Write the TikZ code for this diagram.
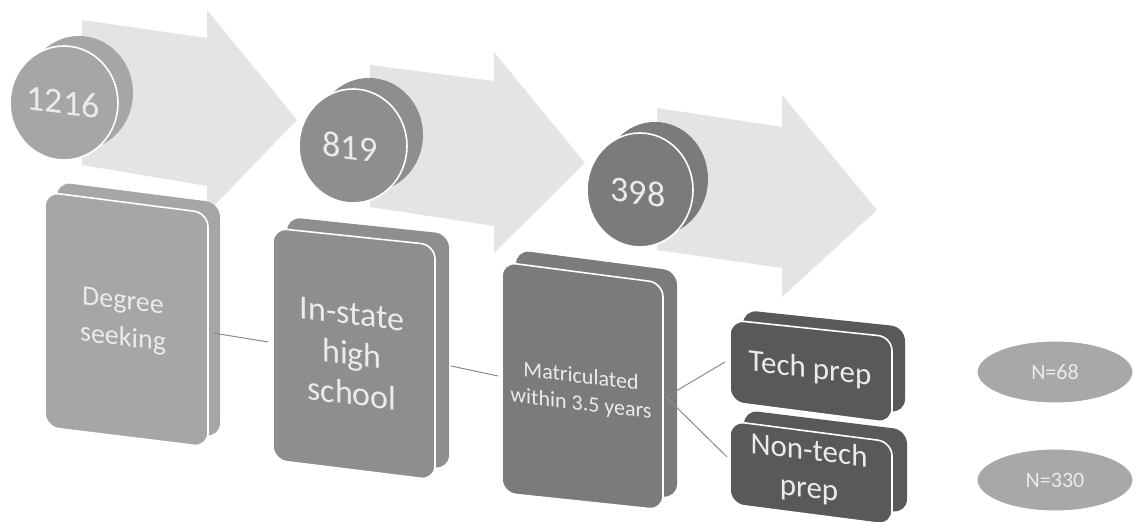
\documentclass[tikz,border=0pt]{standalone}
\usepackage{fontspec}
\setmainfont{Carlito}
\usetikzlibrary{shapes.geometric}
\definecolor{arrowc}{HTML}{E4E4E4}
\definecolor{gA}{HTML}{A6A6A6}
\definecolor{gB}{HTML}{8E8E8E}
\definecolor{gC}{HTML}{7B7B7B}
\definecolor{gD}{HTML}{595959}
\definecolor{gE}{HTML}{A8A8A8}
\definecolor{txt}{HTML}{EBEBEB}
\definecolor{linec}{HTML}{8A8A8A}
\tikzset{
  arrowshape/.style={fill=arrowc, draw=none},
  cardback/.style={draw=none, rounded corners=7pt},
  cardfront/.style={draw=white, line width=0.8pt, rounded corners=7pt},
  discback/.style={draw=none},
  discfront/.style={draw=white, line width=0.8pt},
  lbl/.style={text=txt, align=center, inner sep=0pt, yslant=-0.12},
  conn/.style={draw=linec, line width=0.5pt},
  oval/.style={ellipse, fill=gE, draw=white, line width=0.5pt, minimum width=78pt, minimum height=31pt, text=txt, inner sep=0pt, font=\fontsize{11}{13}\selectfont}
}
\begin{document}
\begin{tikzpicture}[x=0.5pt,y=-0.5pt]
\useasboundingbox (0,0) rectangle (1135,522);
% arrows
\fill[arrowshape] (82,20) -- (207,38) -- (207,10) -- (297,120) -- (207,213) -- (207,186) -- (82,165) -- cycle;
\fill[arrowshape] (370,65) -- (494,81) -- (494,52) -- (585,163) -- (494,253) -- (494,226) -- (370,207) -- cycle;
\fill[arrowshape] (657,108) -- (782,127) -- (782,95) -- (877,210) -- (782,297) -- (782,268) -- (657,250) -- cycle;
% card 1
\fill[cardback, gA] (57,182) -- (220,203) -- (220,437) -- (57,417) -- cycle;
\filldraw[cardfront, fill=gA] (45,192) -- (208,213) -- (208,447) -- (45,427) -- cycle;
% card 2
\fill[cardback, gB] (287,217) -- (449,234) -- (449,469) -- (287,449) -- cycle;
\filldraw[cardfront, fill=gB] (273,228) -- (435,245) -- (435,480) -- (273,460) -- cycle;
% card 3
\fill[cardback, gC] (516,250) -- (677,271) -- (677,498) -- (516,481) -- cycle;
\filldraw[cardfront, fill=gC] (502,262) -- (663,283) -- (663,510) -- (502,493) -- cycle;
% card 4
\fill[cardback, gD] (743,310) -- (905,327) -- (905,413) -- (743,392) -- cycle;
\filldraw[cardfront, fill=gD] (730,320) -- (892,337) -- (892,423) -- (730,402) -- cycle;
% card 5
\fill[cardback, gD] (744,410) -- (907,430) -- (907,513) -- (744,493) -- cycle;
\filldraw[cardfront, fill=gD] (730,421) -- (892,442) -- (892,525) -- (730,504) -- cycle;
% discs
\fill[discback, gA] (79,93) ellipse [x radius=54, y radius=57];
\filldraw[discfront, fill=gA] (64,103) ellipse [x radius=54, y radius=57];
\fill[discback, gB] (369,135) ellipse [x radius=54, y radius=57];
\filldraw[discfront, fill=gB] (353,146) ellipse [x radius=54, y radius=57];
\fill[discback, gC] (655,179) ellipse [x radius=53, y radius=57];
\filldraw[discfront, fill=gC] (640,190) ellipse [x radius=53, y radius=57];
% labels
\node[lbl, font=\fontsize{18}{20}\selectfont] (n1) at (63,102) {1216};
\node[lbl, font=\fontsize{18}{20}\selectfont] (n2) at (350,147) {819};
\node[lbl, font=\fontsize{18}{20}\selectfont] (n3) at (638,192) {398};
\node[lbl, font=\fontsize{14}{18.5}\selectfont] (c1) at (123,321) {Degree\\seeking};
\node[lbl, font=\fontsize{17}{20}\selectfont] (c2) at (352,354) {In-state\\high\\school};
\node[lbl, font=\fontsize{11}{13.5}\selectfont] (c3) at (581,391) {Matriculated\\within 3.5 years};
\node[lbl, font=\fontsize{15.5}{19}\selectfont] (c4) at (810,370) {Tech prep};
\node[lbl, font=\fontsize{15.5}{19}\selectfont] (c5) at (809,471) {Non-tech\\prep};
\node[oval] (e1) at (1055,372) {N=68};
\node[oval] (e2) at (1055,480) {N=330};
% connector anchor points
\coordinate (c1r) at (213,333);
\coordinate (c2l) at (268,342);
\coordinate (c2r) at (451,366);
\coordinate (c3l) at (498,376);
\coordinate (c3r) at (666,397);
\coordinate (c4l) at (725,362);
\coordinate (c5l) at (727,457);
\draw[conn] (c1r) -- (c2l);
\draw[conn] (c2r) -- (c3l);
\draw[conn] (c3r) -- (c4l);
\draw[conn] (c3r) -- (c5l);
\end{tikzpicture}
\end{document}
